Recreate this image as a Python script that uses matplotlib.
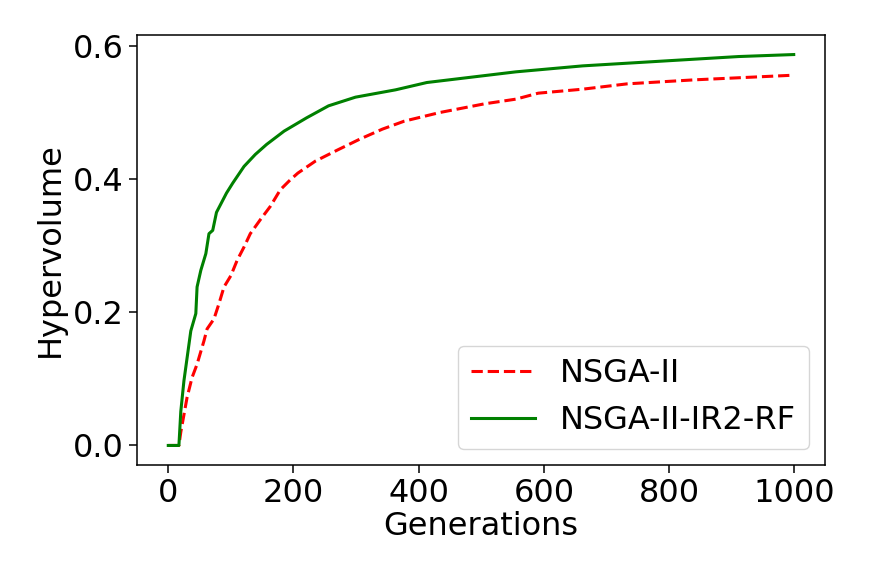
import matplotlib
matplotlib.use("Agg")
import matplotlib.pyplot as plt

# NSGA-II (red dashed)
gen_nsga = [0, 17, 20, 25, 30, 38, 46, 57, 62, 73, 81, 89, 100, 110, 121, 131, 147, 163, 179, 195,
            207, 235, 271, 306, 342, 377, 434, 505, 555, 591, 662, 733, 840, 999]
hv_nsga = [0.0, 0.0, 0.02, 0.046, 0.072, 0.102, 0.122, 0.157, 0.175, 0.190, 0.213, 0.238, 0.255, 0.278,
           0.298, 0.318, 0.339, 0.359, 0.384, 0.399, 0.409, 0.427, 0.444, 0.460, 0.475, 0.487, 0.500,
           0.513, 0.520, 0.529, 0.535, 0.543, 0.549, 0.556]

# NSGA-II-IR2-RF (green solid)
gen_ir2 = [0, 17, 20, 25, 36, 44, 46, 52, 60, 65, 71, 77, 93, 103, 121, 139, 157, 185, 221, 256, 299,
           363, 413, 484, 555, 662, 804, 911, 999]
hv_ir2 = [0.0, 0.0, 0.051, 0.097, 0.172, 0.198, 0.238, 0.263, 0.288, 0.318, 0.323, 0.350, 0.379, 0.394,
          0.419, 0.437, 0.452, 0.472, 0.492, 0.510, 0.523, 0.534, 0.545, 0.553, 0.561, 0.570, 0.578,
          0.584, 0.587]

labels = ["NSGA-II", "NSGA-II-IR2-RF"]
xticks = [0, 200, 400, 600, 800, 1000]
yticks = [0.0, 0.2, 0.4, 0.6]

fs = 23
fig = plt.figure(figsize=(8.72, 5.81), dpi=100)
ax = fig.add_axes([137/872, 1 - 465/581, (825-137)/872, (465-35)/581])
ax.plot(gen_nsga, hv_nsga, color="red", linestyle="--", linewidth=2.2, label=labels[0])
ax.plot(gen_ir2, hv_ir2, color="green", linestyle="-", linewidth=2.2, label=labels[1])
ax.set_xticks(xticks)
ax.set_yticks(yticks)
ax.tick_params(labelsize=fs, length=6, width=1.1)
ax.set_xlabel("Generations", fontsize=fs, labelpad=1)
ax.set_ylabel("Hypervolume", fontsize=fs, labelpad=5)
for s in ax.spines.values():
    s.set_linewidth(1.1)
ax.legend(loc="lower right", fontsize=fs, handlelength=2.0)
fig.savefig("out.png", dpi=100)
